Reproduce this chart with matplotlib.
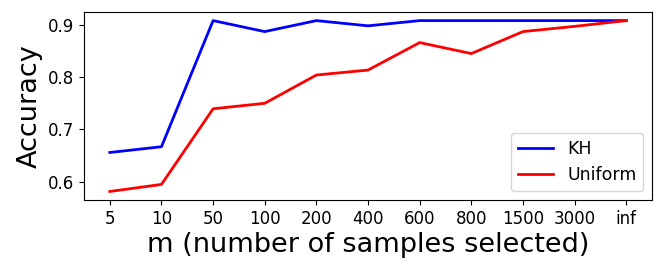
import matplotlib
matplotlib.use("Agg")
import matplotlib.pyplot as plt

categories = ["5", "10", "50", "100", "200", "400", "600", "800", "1500", "3000", "inf"]
kh = [0.656, 0.667, 0.908, 0.887, 0.908, 0.898, 0.908, 0.908, 0.908, 0.908, 0.908]
uniform = [0.5815, 0.595, 0.7395, 0.750, 0.804, 0.8135, 0.866, 0.845, 0.887, 0.897, 0.908]

fig = plt.figure(figsize=(6.64, 2.74), dpi=100)
ax = fig.add_axes([0.1265, 0.27, 0.982 - 0.1265, 0.956 - 0.27])
x = list(range(len(categories)))
ax.plot(x, kh, color="blue", lw=2, label="KH")
ax.plot(x, uniform, color="red", lw=2, label="Uniform")
ax.set_xticks(x)
ax.set_xticklabels(categories)
ax.tick_params(labelsize=12)
ax.set_yticks([0.6, 0.7, 0.8, 0.9])
ax.set_xlabel("m (number of samples selected)", fontsize=19.5, labelpad=3)
ax.set_ylabel("Accuracy", fontsize=19.5)
ax.legend(loc="lower right", fontsize=12.5, handlelength=2.0)
fig.savefig("out.png", dpi=100)
